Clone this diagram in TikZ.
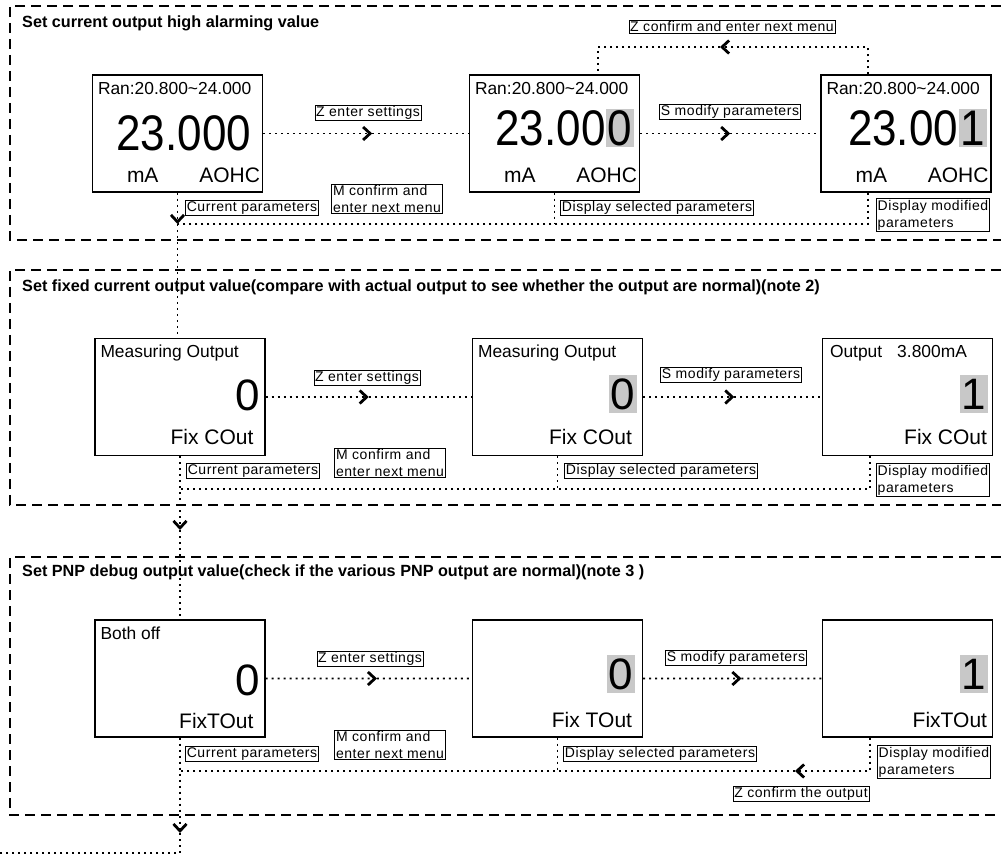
\documentclass[tikz,border=0pt]{standalone}
\usepackage{fontspec}
\setmainfont{Liberation Sans}
\newfontfamily\lcdfont[FakeStretch=0.88]{Liberation Sans}
\newfontfamily\tagfont[LetterSpace=4]{Liberation Sans}
\usetikzlibrary{arrows.meta,calc}
\definecolor{lcdgray}{RGB}{200,200,200}

\begin{document}
\begin{tikzpicture}[x=1pt,y=1pt,
    lcd/.style={draw, line width=1.4pt, minimum width=170pt, minimum height=117pt, inner sep=0pt},
    small/.style={inner sep=0pt, font=\fontsize{17.4}{19}\selectfont},
    mid/.style={inner sep=0pt, font=\fontsize{21}{24}\selectfont},
    big/.style={inner sep=0pt, font=\fontsize{44}{44}\selectfont},
    wide/.style={inner sep=0pt, font=\lcdfont\fontsize{50}{50}\selectfont},
    hl/.style={fill=lcdgray, inner sep=0pt, minimum width=28pt, minimum height=38pt},
    tag/.style={draw, line width=0.8pt, inner sep=1.2pt, align=left, font=\tagfont\fontsize{14}{17}\selectfont},
    title/.style={anchor=west, inner sep=0pt, font=\bfseries\fontsize{16.2}{19}\selectfont},
    flow/.style={line width=1.7pt, dash pattern=on 2pt off 4pt},
    tip/.style={-{Straight Barb[length=7pt,width=13pt,line width=2.8pt]}},
    frame/.style={line width=1.9pt, dash pattern=on 10pt off 6pt}]
    \useasboundingbox (0,0) rectangle (1001,855);
    % section frames
    \foreach \t/\b in {849/615,585/350,298/40}
        \draw[frame] (1001,\t) -- (10,\t) -- (10,\b) -- (1001,\b);
    \node[title] (t1) at (22,832) {Set current output high alarming value};
    \node[title] (t2) at (22,568) {Set fixed current output value(compare with actual output to see whether the output are normal)(note 2)};
    \node[title] (t3) at (22,283) {Set PNP debug output value(check if the various PNP output are normal)(note 3 )};

    % high alarming value screens
    \node[lcd] (r1a) at (177.5,721.5) {};
    \node[lcd] (r1b) at (554.5,721.5) {};
    \node[lcd] (r1c) at (906,721.5) {};
    \foreach \s in {r1a,r1b,r1c} {
        \node[small, anchor=west] (\s-rng) at ([shift={(6,-14)}]\s.north west) {Ran:20.800\textasciitilde24.000};
        \node[mid, anchor=west] (\s-unit) at ([shift={(35,17)}]\s.south west) {mA};
        \node[mid, anchor=east] (\s-code) at ([shift={(-3,17)}]\s.south east) {AOHC};
    }
    \node[wide, anchor=east] (r1a-val) at ([xshift=-12pt]r1a.east) {23.000};
    \node[hl, wide, anchor=east] (r1b-sel) at ([shift={(-6,5.5)}]r1b.east) {0};
    \node[wide, anchor=east] (r1b-val) at (r1b-sel.west) {23.00};
    \node[hl, wide, anchor=east] (r1c-sel) at ([shift={(-5,5.5)}]r1c.east) {1};
    \node[wide, anchor=east] (r1c-val) at (r1c-sel.west) {23.00};
    % connectors
    \coordinate (m1a) at ($(r1a.east)!0.53!(r1b.west)$);
    \coordinate (m1b) at ($(r1b.east)!0.5!(r1c.west)$);
    \coordinate (rt1) at (720,808);
    \coordinate (j1) at (177.5,631);
    \draw[flow, tip] (r1a.east) -- (m1a);
    \draw[flow] (m1a) -- (r1b.west);
    \draw[flow, tip] (r1b.east) -- (m1b);
    \draw[flow] (m1b) -- (r1c.west);
    \draw[flow, tip] ([xshift=-38pt]r1c.north) |- (rt1);
    \draw[flow] (rt1) -| ([xshift=43.5pt]r1b.north);
    \draw[flow] ([xshift=-38pt]r1c.south) |- (j1);
    \draw[flow] (r1b.south) -- (r1b.south |- j1);
    \node[tag] (l1z) at (368,742) {Z enter settings};
    \node[tag] (l1s) at (730,743) {S modify parameters};
    \node[tag] (l1n) at (732,828) {Z confirm and enter next menu};
    \node[tag] (l1c) at (252,647) {Current parameters};
    \node[tag] (l1m) at (387,656) {M confirm and\\enter next menu};
    \node[tag] (l1d) at (657,647) {Display selected parameters};
    \node[tag] (l1e) at (933,640) {Display modified\\parameters};

    % fixed current output screens
    \node[lcd] (r2a) at (180,458) {};
    \node[lcd] (r2b) at (557.5,458) {};
    \node[lcd] (r2c) at (907.5,458) {};
    \node[small, anchor=west] (r2a-top) at ([shift={(6,-15)}]r2a.north west) {Measuring Output};
    \node[big, anchor=east] (r2a-val) at ([shift={(-6,2)}]r2a.east) {0};
    \node[mid, anchor=east] (r2a-code) at ([shift={(-12,19)}]r2a.south east) {Fix COut};
    \node[small, anchor=west] (r2b-top) at ([shift={(6,-15)}]r2b.north west) {Measuring Output};
    \node[hl, big, anchor=east] (r2b-sel) at ([shift={(-6,3)}]r2b.east) {0};
    \node[mid, anchor=east] (r2b-code) at ([shift={(-11,19)}]r2b.south east) {Fix COut};
    \node[small, anchor=west] (r2c-top) at ([shift={(8,-15)}]r2c.north west) {Output\hspace{15pt}3.800mA};
    \node[hl, big, anchor=east] (r2c-sel) at ([shift={(-5,3)}]r2c.east) {1};
    \node[mid, anchor=east] (r2c-code) at ([shift={(-6,19)}]r2c.south east) {Fix COut};
    % connectors
    \draw[flow, tip] (r1a.south) -- (j1);
    \draw[flow] (j1) -- (j1 |- r2a.north);
    \coordinate (m2a) at ($(r2a.east)!0.5!(r2b.west)$);
    \coordinate (m2b) at ($(r2b.east)!0.51!(r2c.west)$);
    \coordinate (j2) at (180,366);
    \draw[flow, tip] (r2a.east) -- (m2a);
    \draw[flow] (m2a) -- (r2b.west);
    \draw[flow, tip] (r2b.east) -- (m2b);
    \draw[flow] (m2b) -- (r2c.west);
    \draw[flow] ([xshift=-37.5pt]r2c.south) |- (j2);
    \draw[flow] (r2b.south) -- (r2b.south |- j2);
    \node[tag] (l2z) at (367,477) {Z enter settings};
    \node[tag] (l2s) at (731,480) {S modify parameters};
    \node[tag] (l2c) at (253,384) {Current parameters};
    \node[tag] (l2m) at (390,392) {M confirm and\\enter next menu};
    \node[tag] (l2d) at (661,384) {Display selected parameters};
    \node[tag] (l2e) at (933,375) {Display modified\\parameters};

    % PNP debug screens
    \node[lcd] (r3a) at (180,176.5) {};
    \node[lcd] (r3b) at (557.5,176.5) {};
    \node[lcd] (r3c) at (907.5,176.5) {};
    \node[small, anchor=west] (r3a-top) at ([shift={(6,-14)}]r3a.north west) {Both off};
    \node[big, anchor=east] (r3a-val) at ([shift={(-6,-1.5)}]r3a.east) {0};
    \node[mid, anchor=east] (r3a-code) at ([shift={(-12,17)}]r3a.south east) {FixTOut};
    \node[hl, big, anchor=east] (r3b-sel) at ([shift={(-8,4.5)}]r3b.east) {0};
    \node[mid, anchor=east] (r3b-code) at ([shift={(-11,17.5)}]r3b.south east) {Fix TOut};
    \node[hl, big, anchor=east] (r3c-sel) at ([shift={(-5,4.5)}]r3c.east) {1};
    \node[mid, anchor=east] (r3c-code) at ([shift={(-6,17.5)}]r3c.south east) {FixTOut};
    % connectors
    \coordinate (d2) at (180,325);
    \draw[flow, tip] (r2a.south) -- (d2);
    \draw[flow] (d2) -- (r3a.north);
    \coordinate (m3a) at ($(r3a.east)!0.54!(r3b.west)$);
    \coordinate (m3b) at ($(r3b.east)!0.55!(r3c.west)$);
    \coordinate (rt3) at (795,84);
    \coordinate (j3) at (180,84);
    \coordinate (d3) at (180,22);
    \coordinate (out) at (0,2);
    \draw[flow, tip] (r3a.east) -- (m3a);
    \draw[flow] (m3a) -- (r3b.west);
    \draw[flow, tip] (r3b.east) -- (m3b);
    \draw[flow] (m3b) -- (r3c.west);
    \draw[flow, tip] ([xshift=-37.5pt]r3c.south) |- (rt3);
    \draw[flow] (rt3) -- (j3);
    \draw[flow] (r3b.south) -- (r3b.south |- j3);
    \draw[flow, tip] (r3a.south) -- (d3);
    \draw[flow] (d3) |- (out);
    \node[tag] (l3z) at (370,196) {Z enter settings};
    \node[tag] (l3s) at (736,197) {S modify parameters};
    \node[tag] (l3c) at (252,101) {Current parameters};
    \node[tag] (l3m) at (390,110) {M confirm and\\enter next menu};
    \node[tag] (l3d) at (660,101) {Display selected parameters};
    \node[tag] (l3e) at (934,93) {Display modified\\parameters};
    \node[tag] (l3o) at (801,61) {Z confirm the output};
\end{tikzpicture}
\end{document}
